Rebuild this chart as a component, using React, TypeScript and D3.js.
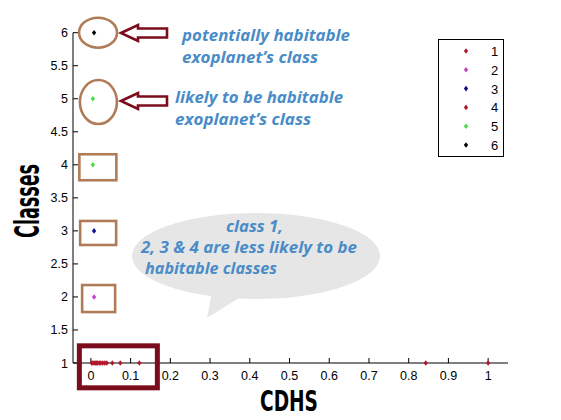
import * as d3 from "d3";

// --- data ---
const xTicks = [0, 0.1, 0.2, 0.3, 0.4, 0.5, 0.6, 0.7, 0.8, 0.9, 1];
const yTicks = [1, 1.5, 2, 2.5, 3, 3.5, 4, 4.5, 5, 5.5, 6];

const classNames = ["1", "2", "3", "4", "5", "6"];
const classColors = ["#b0182c", "#c040c8", "#10108a", "#b0182c", "#44dd44", "#000000"];

// each series: x values (CDHS) and y values (class)
const class1X = [0.002, 0.005, 0.008, 0.011, 0.014, 0.017, 0.021, 0.025, 0.03, 0.035, 0.04, 0.054, 0.074, 0.122, 0.843, 1.0];
const class1Y = class1X.map(() => 1);
const class2X = [0.008];
const class2Y = [2];
const class3X = [0.008];
const class3Y = [3];
const class4X: number[] = [];
const class4Y: number[] = [];
const class5X = [0.005, 0.005];
const class5Y = [4, 5];
const class6X = [0.008];
const class6Y = [6];

const seriesX = [class1X, class2X, class3X, class4X, class5X, class6X];
const seriesY = [class1Y, class2Y, class3Y, class4Y, class5Y, class6Y];

const W = 561;
const H = 420;

export default function App() {
  const x = d3.scaleLinear().domain([-0.045, 1.05]).range([73, 508]);
  const y = d3.scaleLinear().domain([1, 6]).range([363, 32.7]);
  const diamond = d3.symbol().type(d3.symbolDiamond).size(11)();

  const blue = "#4a8cc8";
  const brown = "#b07c58";
  const darkRed = "#7b0c1c";
  const annoFont = "'Open Sans', 'Noto Sans', sans-serif";

  const arrow = (tipX: number, tipY: number) => {
    // outline arrow pointing left
    const p = [
      [tipX, tipY],
      [tipX + 17, tipY - 8],
      [tipX + 17, tipY - 4.5],
      [tipX + 46, tipY - 4.5],
      [tipX + 46, tipY + 4.5],
      [tipX + 17, tipY + 4.5],
      [tipX + 17, tipY + 8],
    ];
    return "M" + p.map((d) => d.join(",")).join("L") + "Z";
  };

  return (
    <svg width={W} height={H} style={{ position: "absolute", left: 0, top: 0, background: "#fff" }}>
      {/* speech bubble */}
      <g>
        <path d="M 207 318 L 212 292 L 242 296 Z" fill="#e6e6e6" />
        <ellipse cx={256} cy={256} rx={124} ry={43} fill="#e6e6e6" />
        <g fill={blue} fontFamily={annoFont} fontWeight="bold" fontStyle="italic" fontSize={16.5}>
          <text x={226} y={232} textLength={57} lengthAdjust="spacingAndGlyphs">class 1,</text>
          <text x={141} y={253} textLength={216} lengthAdjust="spacingAndGlyphs">2, 3 &amp; 4 are less likely to be</text>
          <text x={145} y={274} textLength={132} lengthAdjust="spacingAndGlyphs">habitable classes</text>
        </g>
      </g>

      {/* axes */}
      <g fontFamily="'Liberation Sans', Arial, sans-serif" fontSize={12.5} fill="#000">
        <line x1={73} x2={508} y1={363} y2={363} stroke="#000" />
        <line x1={73} x2={73} y1={363} y2={32.7} stroke="#000" />
        {xTicks.map((t) => (
          <g key={"x" + t}>
            <line x1={x(t)} x2={x(t)} y1={363} y2={358} stroke="#000" />
            <text x={x(t)} y={380} textAnchor="middle">{t}</text>
          </g>
        ))}
        {yTicks.map((t) => (
          <g key={"y" + t}>
            <line x1={73} x2={78} y1={y(t)} y2={y(t)} stroke="#000" />
            <text x={68} y={y(t) + 4.5} textAnchor="end">{t}</text>
          </g>
        ))}
      </g>

      {/* axis labels */}
      <text
        transform="translate(260,411) scale(1,1.16)"
        fontFamily="'DejaVu Sans Condensed', 'DejaVu Sans', sans-serif"
        fontWeight="bold"
        fontSize={25}
        textLength={58}
        lengthAdjust="spacingAndGlyphs"
      >
        CDHS
      </text>
      <text
        transform="translate(39,238) rotate(-90) scale(1,1.1)"
        fontFamily="'DejaVu Sans Condensed', 'DejaVu Sans', sans-serif"
        fontWeight="bold"
        fontSize={30}
        textLength={74}
        lengthAdjust="spacingAndGlyphs"
      >
        Classes
      </text>

      {/* data points */}
      {seriesX.map((xs, si) =>
        xs.map((v, i) => (
          <path
            key={si + "-" + i}
            d={diamond}
            transform={`translate(${x(v)},${y(seriesY[si][i])}) scale(1.2,0.9)`}
            fill={classColors[si]}
          />
        ))
      )}

      {/* legend */}
      <g>
        <rect x={438.5} y={39.5} width={65} height={117} fill="#fff" stroke="#000" />
        {classNames.map((c, i) => (
          <g key={c}>
            <path d={diamond} transform={`translate(466,${51 + i * 18.8}) scale(1.2,0.9)`} fill={classColors[i]} />
            <text x={491} y={51 + i * 18.8 + 5} fontFamily="'Liberation Sans', Arial, sans-serif" fontSize={13}>{c}</text>
          </g>
        ))}
      </g>

      {/* highlight shapes */}
      <g fill="none" stroke={brown} strokeWidth={2.6}>
        <ellipse cx={x(0.018)} cy={y(6)} rx={19} ry={15} />
        <ellipse cx={x(0.019)} cy={y(4.95)} rx={18.5} ry={22} />
        <rect x={x(-0.029)} y={y(4.16)} width={37} height={26} />
        <rect x={x(-0.027)} y={y(3.15)} width={36} height={24} />
        <rect x={x(-0.022)} y={y(2.18)} width={33} height={27} />
      </g>
      <rect x={x(-0.029)} y={y(1.26)} width={78} height={42} fill="none" stroke={darkRed} strokeWidth={5} />

      {/* arrows */}
      <g fill="#fff" stroke={darkRed} strokeWidth={2.6}>
        <path d={arrow(121, 33)} />
        <path d={arrow(121, 101)} />
      </g>

      {/* annotations */}
      <g fill={blue} fontFamily={annoFont} fontWeight="bold" fontStyle="italic" fontSize={16.5}>
        <text x={182} y={41} textLength={168} lengthAdjust="spacingAndGlyphs">potentially habitable</text>
        <text x={182} y={63} textLength={136} lengthAdjust="spacingAndGlyphs">exoplanet’s class</text>
        <text x={175} y={103} textLength={168} lengthAdjust="spacingAndGlyphs">likely to be habitable</text>
        <text x={175} y={125} textLength={136} lengthAdjust="spacingAndGlyphs">exoplanet’s class</text>
      </g>
    </svg>
  );
}
